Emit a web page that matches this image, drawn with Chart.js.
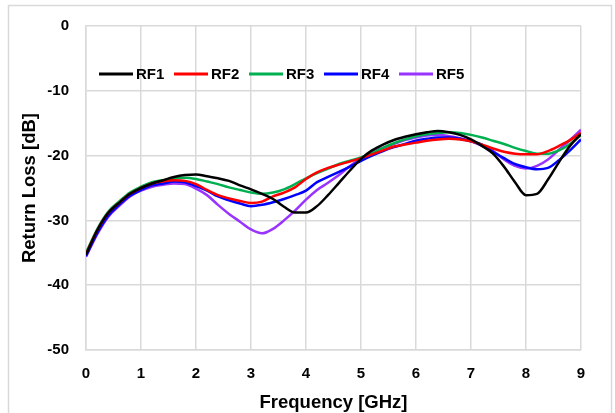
<!DOCTYPE html>
<html>
<head>
<meta charset="utf-8">
<script src="https://cdn.jsdelivr.net/npm/chart.js@4.4.1/dist/chart.umd.min.js"></script>
<style>
  body { margin: 0; background: #fff; }
  canvas { display: block; }
</style>
</head>
<body>
<canvas id="rlChart" width="615" height="413"></canvas>
<script>
// Frequency points [GHz]
const freq = [0, 0.2, 0.4, 0.6, 0.8, 1.0, 1.2, 1.4, 1.6, 1.8, 2.0, 2.2, 2.4, 2.6, 2.8, 3.0, 3.2, 3.4, 3.6, 3.8,
  4.0, 4.2, 4.4, 4.6, 4.8, 5.0, 5.2, 5.4, 5.6, 5.8, 6.0, 6.2, 6.4, 6.6, 6.8, 7.0, 7.2, 7.4, 7.6, 7.8,
  8.0, 8.2, 8.4, 8.6, 8.8, 9.0];

// Return loss [dB]
const rf1 = [-35.3, -31.6, -28.9, -27.3, -25.9, -25.0, -24.3, -23.8, -23.3, -23.0, -22.9, -23.2, -23.5, -23.9, -24.6, -25.2, -25.9, -26.7, -27.9, -28.8,
  -28.8, -27.8, -26.1, -24.2, -22.3, -20.5, -19.2, -18.3, -17.6, -17.1, -16.7, -16.4, -16.2, -16.4, -16.8, -17.5, -18.5, -19.7, -21.7, -24.1,
  -26.1, -25.9, -23.7, -21.0, -18.5, -16.7];
const rf2 = [-35.2, -31.6, -28.9, -27.3, -25.9, -25.0, -24.3, -24.0, -23.8, -23.9, -24.4, -25.3, -26.1, -26.6, -27.0, -27.3, -27.1, -26.3, -25.7, -24.9,
  -23.6, -22.6, -21.9, -21.4, -20.9, -20.4, -19.8, -19.2, -18.6, -18.3, -18.0, -17.7, -17.5, -17.4, -17.5, -17.8, -18.3, -18.9, -19.4, -19.7,
  -19.8, -19.8, -19.3, -18.5, -17.6, -16.5];
const rf3 = [-35.0, -31.4, -28.7, -27.1, -25.7, -24.8, -24.1, -23.8, -23.5, -23.4, -23.6, -24.0, -24.4, -24.9, -25.3, -25.7, -25.9, -25.7, -25.2, -24.4,
  -23.5, -22.7, -22.0, -21.3, -20.8, -20.3, -19.6, -18.8, -18.1, -17.5, -17.0, -16.7, -16.5, -16.4, -16.5, -16.8, -17.2, -17.7, -18.2, -18.8,
  -19.3, -19.7, -19.7, -19.2, -18.2, -16.8];
const rf4 = [-35.5, -32.0, -29.3, -27.6, -26.2, -25.3, -24.6, -24.3, -24.0, -24.1, -24.7, -25.4, -26.3, -26.9, -27.4, -27.8, -27.6, -27.2, -26.7, -26.1,
  -25.4, -24.1, -23.3, -22.5, -21.7, -20.8, -20.0, -19.3, -18.7, -18.2, -17.7, -17.4, -17.2, -17.2, -17.4, -17.8, -18.3, -19.4, -20.4, -21.3,
  -21.8, -22.1, -21.9, -20.7, -19.2, -17.5];
const rf5 = [-35.6, -32.2, -29.5, -27.8, -26.3, -25.4, -24.8, -24.5, -24.3, -24.4, -25.1, -26.1, -27.6, -29.0, -30.2, -31.4, -32.0, -31.3, -30.0, -28.5,
  -26.8, -25.3, -24.2, -23.0, -21.6, -20.4, -19.5, -18.8, -18.2, -17.6, -17.2, -16.9, -16.8, -17.0, -17.3, -17.8, -18.5, -19.3, -20.6, -21.6,
  -22.0, -21.6, -20.6, -19.1, -17.6, -16.0];

const seriesNames = ['RF1', 'RF2', 'RF3', 'RF4', 'RF5'];
const seriesColors = ['#000000', '#ff0000', '#00b050', '#0000ff', '#9933ff'];
const seriesValues = [rf1, rf2, rf3, rf4, rf5];

const FONT = '"Liberation Sans", Arial, sans-serif';
const GRID = '#d9d9d9';

// white background + outer frame
const framePlugin = {
  id: 'frame',
  beforeDraw(chart) {
    const ctx = chart.ctx;
    ctx.save();
    ctx.fillStyle = '#fff';
    ctx.fillRect(0, 0, chart.width, chart.height);
    ctx.strokeStyle = GRID;
    ctx.lineWidth = 1.5;
    ctx.strokeRect(8.5, 5.5, 603, 440);
    ctx.restore();
  }
};

// legend drawn inside the plot, one row
const insideLegend = {
  id: 'insideLegend',
  afterDatasetsDraw(chart) {
    const ctx = chart.ctx;
    const y = 74;
    ctx.save();
    ctx.font = 'bold 15px ' + FONT;
    ctx.textBaseline = 'middle';
    chart.data.datasets.forEach((ds, i) => {
      const x = 99 + i * 75;
      ctx.strokeStyle = ds.borderColor;
      ctx.lineWidth = 3;
      ctx.beginPath();
      ctx.moveTo(x, y);
      ctx.lineTo(x + 34, y);
      ctx.stroke();
      ctx.fillStyle = '#000';
      ctx.fillText(ds.label, x + 37, y + 0.5);
    });
    ctx.restore();
  }
};

const datasets = seriesNames.map((name, i) => ({
  label: name,
  data: freq.map((f, j) => ({ x: f, y: seriesValues[i][j] })),
  borderColor: seriesColors[i],
  borderWidth: 2.5,
  pointRadius: 0,
  fill: false,
  cubicInterpolationMode: 'monotone'
}));

new Chart(document.getElementById('rlChart'), {
  type: 'line',
  data: { datasets },
  options: {
    responsive: false,
    animation: false,
    layout: { padding: { left: 0, top: 24, right: 34, bottom: 0 } },
    plugins: { legend: { display: false }, tooltip: { enabled: false } },
    scales: {
      x: {
        type: 'linear',
        min: 0,
        max: 9,
        afterFit(scale) { scale.height = 63; },
        grid: { color: GRID, lineWidth: 1.5, drawTicks: false },
        border: { color: GRID, width: 1.5 },
        ticks: { stepSize: 1, padding: 15, color: '#000', font: { family: FONT, size: 15, weight: 'bold' } },
        title: {
          display: true,
          text: 'Frequency [GHz]',
          color: '#000',
          font: { family: FONT, size: 18.5, weight: 'bold', lineHeight: 1 },
          padding: { top: 0, bottom: 1 }
        }
      },
      y: {
        min: -50,
        max: 0,
        afterFit(scale) { scale.width = 86; },
        grid: { color: GRID, lineWidth: 1.5, drawTicks: false },
        border: { color: GRID, width: 1.5 },
        ticks: { stepSize: 10, padding: 17, color: '#000', font: { family: FONT, size: 15, weight: 'bold' } },
        title: {
          display: true,
          text: 'Return Loss [dB]',
          color: '#000',
          font: { family: FONT, size: 18.5, weight: 'bold', lineHeight: 1 },
          padding: { top: 21, bottom: 0 }
        }
      }
    }
  },
  plugins: [framePlugin, insideLegend]
});
</script>
</body>
</html>
